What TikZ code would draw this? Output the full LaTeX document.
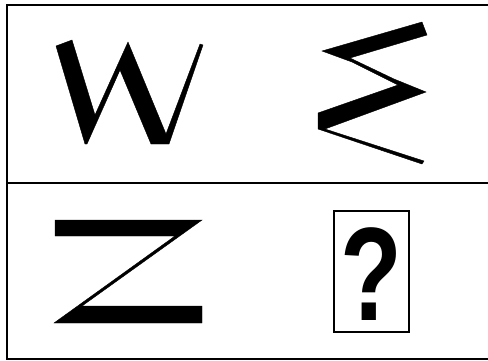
\documentclass[tikz,border=0pt]{standalone}
\usepackage{fontspec}
\usepackage{graphicx}
\setmainfont{Liberation Sans}
\begin{document}
\begin{tikzpicture}[x=1pt,y=-1pt,
  frame/.style={line width=2.5pt,black},
  glyph/.style={fill=black,draw=black,line width=0.4pt,line join=miter},
  qbox/.style={draw,line width=2pt,minimum width=75pt,minimum height=121pt,inner sep=0pt}]
\useasboundingbox (0,0) rectangle (488,360);
% frame
\draw[frame] (488,5) -- (7,5) -- (7,359) -- (488,359);
\draw[line width=2pt] (7,183) -- (488,183);
% W
\fill[glyph] (56,46) -- (72,40) -- (95,115) -- (128,42) -- (166,134) -- (200,44)
  -- (203,45) -- (169,144) -- (151,144) -- (120,70) -- (87,144) -- (85,144) -- cycle;
% sigma-like shape
\fill[glyph] (322,51) -- (422,22) -- (427,35) -- (350,58) -- (394,79) -- (426,92)
  -- (325,129) -- (424,161) -- (422,164) -- (318,129) -- (318,113) -- (398,85)
  -- (352,62) -- cycle;
% Z
\fill[glyph] (55,220) -- (202,220) -- (82,306) -- (202,306) -- (202,323) -- (54,323)
  -- (175,236) -- (55,236) -- cycle;
% question box
\node[qbox] (q) at (371.5,271.5) {};
\node[anchor=base,inner sep=0pt] (qm) at (371,320)
  {\fontsize{133}{133}\selectfont\bfseries\scalebox{0.76}[1]{?}};
\end{tikzpicture}
\end{document}
